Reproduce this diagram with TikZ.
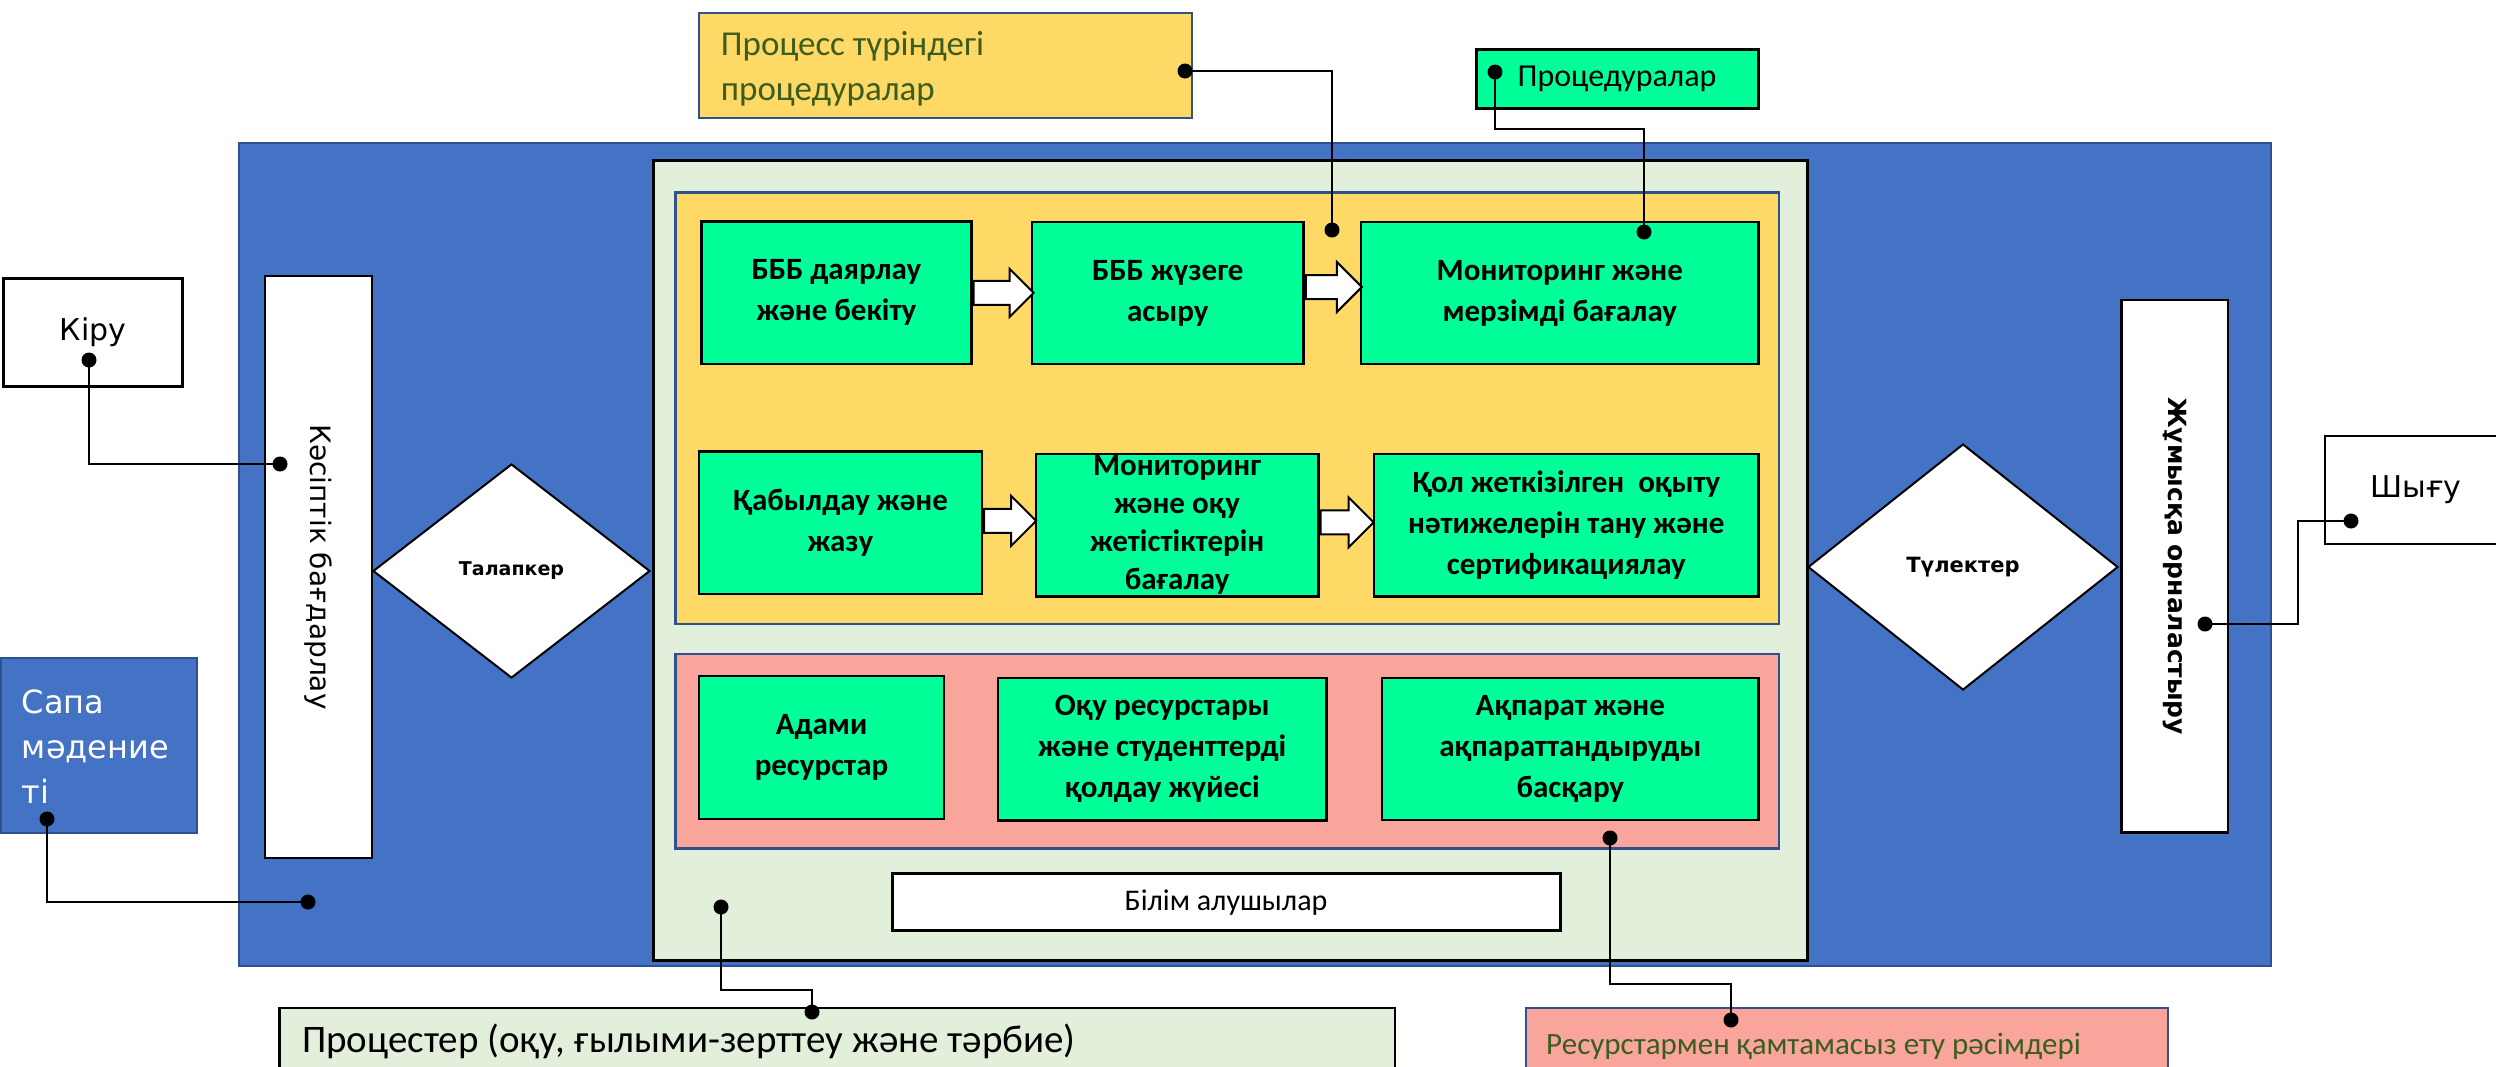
\documentclass[tikz,border=0pt]{standalone}
\usepackage{fontspec}
\setmainfont{Carlito}
\newfontfamily\dvf{DejaVu Sans}
\newfontfamily\calf{Carlito}
\usetikzlibrary{shapes.geometric,shapes.arrows,calc}
\definecolor{oblue}{HTML}{4472C4}
\definecolor{oblueb}{HTML}{2F528F}
\definecolor{lgreen}{HTML}{E2EFDA}
\definecolor{oyellow}{HTML}{FFD966}
\definecolor{opink}{HTML}{FAA59C}
\definecolor{mint}{HTML}{00FF99}
\definecolor{dgreen}{HTML}{3B5E1F}
\tikzset{
  gbox/.style={draw=black, line width=2.5pt, fill=mint, align=center, inner sep=0pt,
    font=\calf\bfseries\fontsize{31}{41}\selectfont},
  wbox/.style={draw=black, line width=2.5pt, fill=white, inner sep=0pt},
  dia/.style={diamond, draw=black, line width=2pt, fill=white, inner sep=0pt},
  barrow/.style={single arrow, draw=black, fill=white, line width=2pt, inner xsep=0pt,
    inner ysep=11pt, single arrow head extend=12pt, anchor=tail},
  dotn/.style={circle, fill=black, inner sep=0pt, minimum size=15pt},
  conn/.style={draw=black, line width=2.5pt},
}
\begin{document}
\begin{tikzpicture}[x=1pt,y=-1pt]
\useasboundingbox (0,0) rectangle (2496,1066);
\clip (0,0) rectangle (2496,1066);
% big frames
\node[draw=oblueb, line width=2pt, fill=oblue, minimum width=2032.5pt, minimum height=823pt, inner sep=0pt] (blue) at (1254.75,554.5) {};
\node[draw=black, line width=3pt, fill=lgreen, minimum width=1153.5pt, minimum height=799.4pt, inner sep=0pt] (lg) at (1230.25,560.3) {};
\node[draw=oblueb, line width=2.5pt, fill=oyellow, minimum width=1103.5pt, minimum height=431.3pt, inner sep=0pt] (yel) at (1227.25,408.35) {};
\node[draw=oblueb, line width=2.5pt, fill=opink, minimum width=1103.5pt, minimum height=194.3pt, inner sep=0pt] (pnk) at (1227.25,751.15) {};
% process boxes
\node[gbox, minimum width=270pt, minimum height=142.3pt] (b1) at (836.4,292.85) {БББ даярлау\\және бекіту};
\node[gbox, minimum width=271.6pt, minimum height=142pt] (b2) at (1167.8,293) {БББ жүзеге\\асыру};
\node[gbox, minimum width=397.6pt, minimum height=142pt] (b3) at (1559.8,293) {Мониторинг және\\мерзімді бағалау};
\node[gbox, minimum width=282.8pt, minimum height=142.3pt] (b4) at (840.4,522.85) {Қабылдау және\\жазу};
\node[gbox, minimum width=282.6pt, minimum height=142.7pt, font=\calf\bfseries\fontsize{31}{38}\selectfont] (b5) at (1177.1,525.35) {Мониторинг\\және оқу\\жетістіктерін\\бағалау};
\node[gbox, minimum width=384.6pt, minimum height=142.7pt] (b6) at (1566.3,525.35) {Қол жеткізілген\ \ оқыту\\нәтижелерін тану және\\сертификациялау};
\node[gbox, minimum width=245pt, minimum height=143pt] (b7) at (821.5,747.5) {Адами\\ресурстар};
\node[gbox, minimum width=328.5pt, minimum height=142.3pt] (b8) at (1162.25,749.15) {Оқу ресурстары\\және студенттерді\\қолдау жүйесі};
\node[gbox, minimum width=376.6pt, minimum height=142pt] (b9) at (1570.3,749) {Ақпарат және\\ақпараттандыруды\\басқару};
% block arrows
\node[barrow, minimum height=60pt] (a1) at (b1.east) {};
\node[barrow, minimum height=56pt, single arrow head extend=13pt] (a2) at ($(b2.east)+(0,-6)$) {};
\node[barrow, minimum height=52pt, single arrow head extend=13pt] (a3) at ($(b4.east)+(0,-2)$) {};
\node[barrow, minimum height=53pt, single arrow head extend=13pt] (a4) at ($(b5.east)+(0,-3)$) {};
% students box
\node[wbox, line width=3pt, minimum width=668pt, minimum height=56.7pt, font=\calf\fontsize{30}{34}\selectfont] (bil) at (1226,902.3) {Білім алушылар};
% side bars and diamonds
\node[wbox, minimum width=107pt, minimum height=582pt] (kas) at (318.5,567) {};
\node[rotate=-90, font=\dvf\fontsize{28}{32}\selectfont] (kast) at (kas.center) {Кәсіптік бағдарлау};
\node[wbox, minimum width=106.5pt, minimum height=532.5pt] (jum) at (2174.75,566.25) {};
\node[rotate=-90, font=\dvf\bfseries\fontsize{25}{30}\selectfont] (jumt) at (jum.center) {Жұмысқа орналастыру};
\node[dia, minimum width=277pt, minimum height=214pt, font=\dvf\bfseries\fontsize{19}{22}\selectfont] (tal) at (511.5,571) {Талапкер};
\node[dia, minimum width=310pt, minimum height=246pt, font=\dvf\bfseries\fontsize{21}{24}\selectfont] (tul) at (1963,567) {Түлектер};
% outer boxes
\node[wbox, minimum width=179pt, minimum height=108pt, font=\dvf\fontsize{30}{34}\selectfont] (kir) at (93,332.5) {Кіру};
\node[wbox, minimum width=220pt, minimum height=108pt] (shy) at (2435,490) {};
\node[font=\dvf\fontsize{30}{34}\selectfont] (shyt) at (2416,490) {Шығу};
\node[draw=oblueb, line width=2pt, fill=oblue, minimum width=195.7pt, minimum height=175pt, inner sep=0pt] (sapa) at (99.15,745.5) {};
\node[anchor=base west, text=white, font=\dvf\fontsize{32}{36}\selectfont, inner sep=0pt] (s1) at (21.7,713) {Сапа};
\node[anchor=base west, text=white, font=\dvf\fontsize{32}{36}\selectfont, inner sep=0pt] (s2) at (21.7,758.5) {мәдение};
\node[anchor=base west, text=white, font=\dvf\fontsize{32}{36}\selectfont, inner sep=0pt] (s3) at (21.7,803) {ті};
\node[draw=oblueb, line width=2pt, fill=oyellow, minimum width=493pt, minimum height=105pt, inner sep=0pt] (proc) at (945.5,65.8) {};
\node[anchor=base west, text=dgreen, font=\calf\fontsize{35}{40}\selectfont, inner sep=0pt] (p1) at (720.7,55) {Процесс түріндегі};
\node[anchor=base west, text=dgreen, font=\calf\fontsize{35}{40}\selectfont, inner sep=0pt] (p2) at (720.7,100) {процедуралар};
\node[draw=black, line width=3pt, fill=mint, minimum width=282pt, minimum height=59pt, inner sep=0pt, font=\calf\fontsize{32}{36}\selectfont] (prd) at (1617,78.5) {Процедуралар};
\node[draw=black, line width=2.5pt, fill=lgreen, minimum width=1115.7pt, minimum height=150pt, inner sep=0pt] (pst) at (837.15,1083) {};
\node[anchor=base west, font=\calf\fontsize{39}{44}\selectfont, inner sep=0pt] (pstt) at (302,1052.7) {Процестер (оқу, ғылыми-зерттеу және тәрбие)};
\node[draw=oblueb, line width=2pt, fill=opink, minimum width=642pt, minimum height=150pt, inner sep=0pt] (res) at (1847,1083) {};
\node[anchor=base west, text=dgreen, font=\calf\fontsize{31}{36}\selectfont, inner sep=0pt] (rest) at (1546,1054) {Ресурстармен қамтамасыз ету рәсімдері};
% connectors
\node[dotn] (d1a) at (89,360) {};
\node[dotn] (d1b) at (280,464) {};
\node[dotn] (d2a) at (47,819) {};
\node[dotn] (d2b) at (308,902) {};
\node[dotn] (d3a) at (1185,71) {};
\node[dotn] (d3b) at (1332,230) {};
\node[dotn] (d4a) at (1495,72) {};
\node[dotn] (d4b) at (1644,232) {};
\node[dotn] (d5a) at (2351,521) {};
\node[dotn] (d5b) at (2205,624) {};
\node[dotn] (d6a) at (721,907) {};
\node[dotn] (d6b) at (812,1012) {};
\node[dotn] (d7a) at (1610,838) {};
\node[dotn] (d7b) at (1731,1020) {};
\draw[conn] (d1a.center) |- (d1b.center);
\draw[conn] (d2a.center) |- (d2b.center);
\draw[conn] (d3a.center) -| (d3b.center);
\draw[conn] (d4a.center) -- ++(0,57) -| (d4b.center);
\draw[conn] (d5a.center) -- ++(-53,0) |- (d5b.center);
\draw[conn] (d6a.center) -- ++(0,83) -| (d6b.center);
\draw[conn] (d7a.center) -- ++(0,146) -| (d7b.center);
\end{tikzpicture}
\end{document}
